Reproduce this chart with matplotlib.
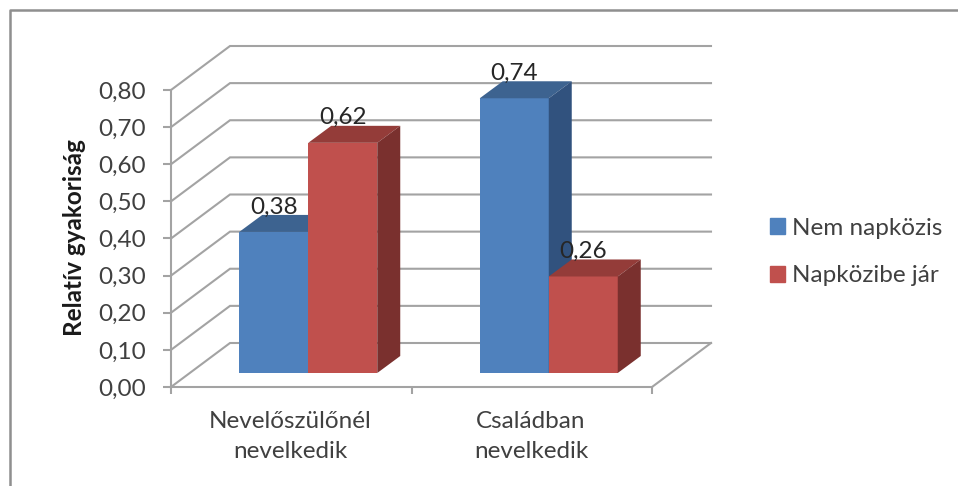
import matplotlib
matplotlib.use('Agg')
import matplotlib.pyplot as plt
from matplotlib.patches import Patch, Polygon
from matplotlib.lines import Line2D

plt.rcParams['font.family'] = ['Lato', 'DejaVu Sans']

categories = ['Nevelőszülőnél\nnevelkedik', 'Családban\nnevelkedik']
nem_napkozis = [0.38, 0.74]
napkozibe_jar = [0.62, 0.26]
series_names = ['Nem napközis', 'Napközibe jár']
y_ticks = [0.0, 0.1, 0.2, 0.3, 0.4, 0.5, 0.6, 0.7, 0.8]

W, H = 958, 486
fig = plt.figure(figsize=(W / 100, H / 100), dpi=100)
ax = fig.add_axes([171 / W, 1 - 387 / H, 481 / W, 297 / H])
ax.set_xlim(0, 2)
ax.set_ylim(0, 0.8)
ax.patch.set_alpha(0)

# pixel sizes in data units, the fake 3d depth is worked out from these
px_x = 2 / 481
px_y = 0.8 / 297
wall_dx, wall_dy = 59 * px_x, 44 * px_y
bar_dx, bar_dy = 23 * px_x, 17 * px_y
lift_x, lift_y = 17 * px_x, 14 * px_y
bar_w = 69 * px_x
grid_col = '#a3a3a3'
text_col = '#404040'
font_size = 17.5

# walls and floor
for t in y_ticks:
    ax.plot([0, wall_dx, 2 + wall_dx], [t, t + wall_dy, t + wall_dy],
            color=grid_col, lw=1.5, clip_on=False, zorder=1, solid_joinstyle='miter')
ax.plot([2, 2 + wall_dx], [0, wall_dy], color=grid_col, lw=1.5, clip_on=False, zorder=1)


def draw_bar(x, val, front, top, side, z):
    x0 = x + lift_x
    y0 = lift_y
    y1 = y0 + val
    ax.bar(x0 + bar_w / 2, val, bar_w, bottom=y0, color=front, zorder=z, clip_on=False)
    ax.add_patch(Polygon([(x0, y1), (x0 + bar_w, y1), (x0 + bar_w + bar_dx, y1 + bar_dy),
                          (x0 + bar_dx, y1 + bar_dy)], closed=True, fc=top, ec='none',
                         zorder=z, clip_on=False))
    ax.add_patch(Polygon([(x0 + bar_w, y0), (x0 + bar_w + bar_dx, y0 + bar_dy),
                          (x0 + bar_w + bar_dx, y1 + bar_dy), (x0 + bar_w, y1)], closed=True,
                         fc=side, ec='none', zorder=z, clip_on=False))
    ax.text(x0 + bar_w / 2, y1 + 25 * px_y, ('%.2f' % val).replace('.', ','),
            ha='center', va='center', fontsize=font_size, color='#262626', zorder=10, clip_on=False)


centers = [0.5, 1.5]
for i, c in enumerate(centers):
    draw_bar(c - bar_w, nem_napkozis[i], '#4f81bd', '#3d6390', '#31527e', 3 + i * 2)
    draw_bar(c, napkozibe_jar[i], '#c0504d', '#943c39', '#7a302e', 4 + i * 2)

# axes
ax.spines[['top', 'right']].set_visible(False)
ax.spines[['left', 'bottom']].set_color(grid_col)
ax.spines[['left', 'bottom']].set_linewidth(1.5)
ax.set_yticks(y_ticks)
ax.set_yticklabels([('%.2f' % t).replace('.', ',') for t in y_ticks], fontsize=font_size,
                   color=text_col, va='center_baseline')
ax.set_xticks([0, 1, 2])
ax.set_xticklabels([])
ax.tick_params(axis='y', color=grid_col, width=1.5, length=6, pad=12)
ax.tick_params(axis='x', color=grid_col, width=1.5, length=5)
for c, name in zip(centers, categories):
    ax.annotate(name, xy=(c, 0), xytext=(-0.5, -17), textcoords='offset points', ha='center',
                va='top', fontsize=font_size, color=text_col, linespacing=1.58)

fig.text(74 / W, 1 - 238 / H, 'Relatív gyakoriság', rotation=90, ha='center', va='center',
         fontsize=font_size, fontweight='bold', color='#1a1a1a')

handles = [Patch(color='#4f81bd'), Patch(color='#c0504d')]
fig.legend(handles, series_names, loc='center left', bbox_to_anchor=(770 / W, 1 - 252 / H),
           frameon=False, fontsize=font_size, handlelength=0.62, handleheight=0.62, handletextpad=0.3,
           labelspacing=1.1, labelcolor=text_col, borderpad=0, borderaxespad=0)

# outer frame of the chart
fig.add_artist(Line2D([9.5 / W, 9.5 / W, 1], [0, 1 - 10.5 / H, 1 - 10.5 / H],
                      color='#8f8f8f', lw=1.8, transform=fig.transFigure))

fig.savefig('out.png', dpi=100)
